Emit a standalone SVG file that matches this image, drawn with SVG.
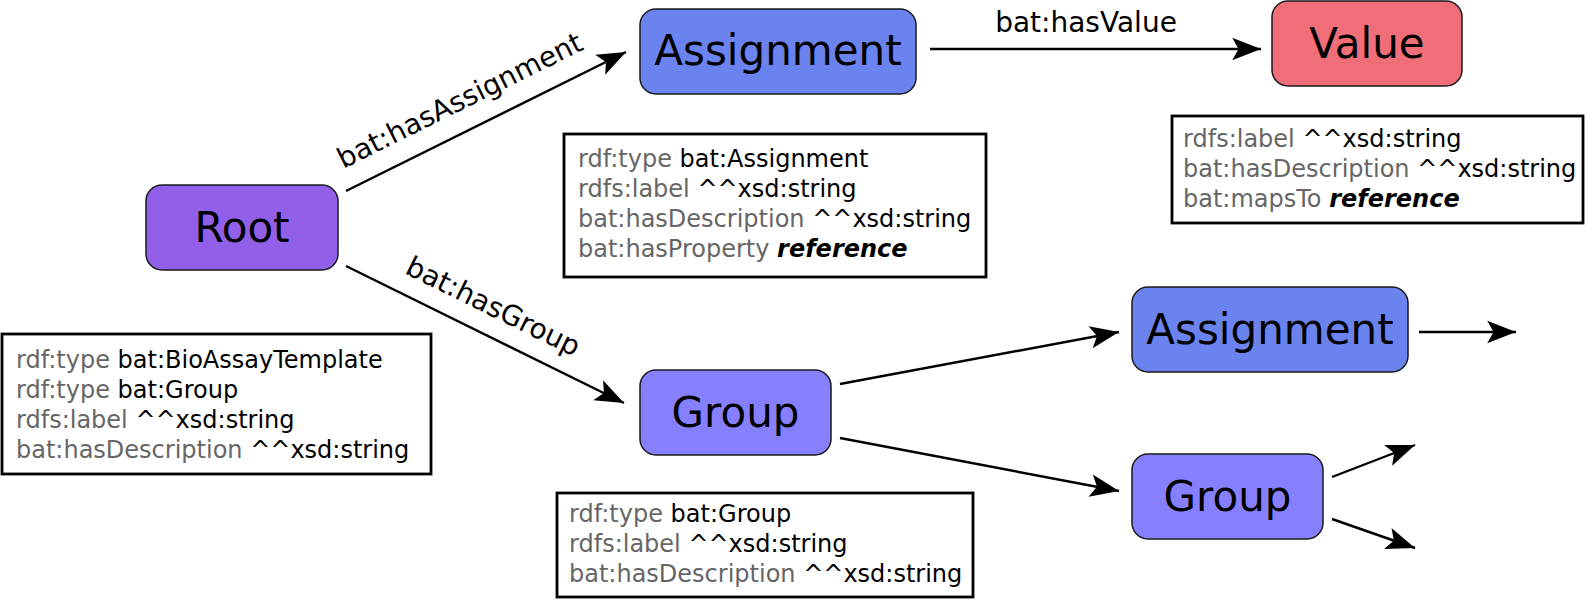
<svg xmlns="http://www.w3.org/2000/svg" width="1585" height="600" viewBox="0 0 1585 600">
<style>
.node{stroke:#1a1a1a;stroke-width:1.5}
.root{fill:#915fe8}
.asg{fill:#6a83ef}
.val{fill:#f06e77}
.grp{fill:#8780fe}
.nl{font-family:"DejaVu Sans",sans-serif;font-size:42px;fill:#000;text-anchor:middle}
.el{font-family:"DejaVu Sans",sans-serif;font-size:28px;fill:#000;text-anchor:middle}
.box{fill:#fff;stroke:#000;stroke-width:2.8}
.it{font-family:"DejaVu Sans",sans-serif;font-size:24px;fill:#000}
.p{fill:#666}
.r{font-weight:bold;font-style:italic}
.edge{stroke:#000;stroke-width:2.4;fill:none;marker-end:url(#ah)}
</style>
<defs>
<marker id="ah" markerUnits="userSpaceOnUse" markerWidth="32" markerHeight="26" viewBox="-29 -12 30 24" refX="0" refY="0" orient="auto">
<path d="M0,0 L-27,-10.5 L-21,0 L-27,10.5 Z" fill="#000"/>
</marker>
</defs>
<g id="connectors">
<line class="edge" x1="346" y1="191" x2="626" y2="52"/>
<line class="edge" x1="346" y1="266" x2="624" y2="403"/>
<line class="edge" x1="930" y1="49" x2="1261" y2="49"/>
<line class="edge" x1="840" y1="384" x2="1119" y2="332"/>
<line class="edge" x1="840" y1="438" x2="1119" y2="491"/>
<line class="edge" x1="1419" y1="332" x2="1516" y2="332"/>
<line class="edge" x1="1332" y1="477" x2="1415" y2="445"/>
<line class="edge" x1="1332" y1="519" x2="1415" y2="548"/>
<text class="el" transform="translate(464,109) rotate(-26.4)">bat:hasAssignment</text>
<text class="el" transform="translate(489,315) rotate(26.2)">bat:hasGroup</text>
<text class="el" x="1086" y="32">bat:hasValue</text>
</g>
<g id="root">
<rect class="node root" x="146" y="185" width="192" height="85" rx="16"/>
<text class="nl" x="242" y="242">Root</text>
</g>
<g id="assignment">
<rect class="node asg" x="640" y="9" width="276" height="85" rx="16"/>
<text class="nl" x="778" y="65">Assignment</text>
</g>
<g id="value">
<rect class="node val" x="1272" y="1" width="190" height="85" rx="16"/>
<text class="nl" x="1367" y="58">Value</text>
</g>
<g id="group">
<rect class="node grp" x="640" y="370" width="191" height="85" rx="16"/>
<text class="nl" x="735.5" y="427">Group</text>
</g>
<g id="assignment2">
<rect class="node asg" x="1132" y="287" width="276" height="85" rx="16"/>
<text class="nl" x="1270" y="344">Assignment</text>
</g>
<g id="group2">
<rect class="node grp" x="1132" y="454" width="191" height="85" rx="16"/>
<text class="nl" x="1227.5" y="511">Group</text>
</g>
<g id="root-info">
<rect class="box" x="2" y="334" width="429" height="140"/>
<text class="it" x="16" y="368"><tspan class="p">rdf:type</tspan> bat:BioAssayTemplate</text>
<text class="it" x="16" y="398"><tspan class="p">rdf:type</tspan> bat:Group</text>
<text class="it" x="16" y="428"><tspan class="p">rdfs:label</tspan> ^^xsd:string</text>
<text class="it" x="16" y="458"><tspan class="p">bat:hasDescription</tspan> ^^xsd:string</text>
</g>
<g id="assignment-info">
<rect class="box" x="564" y="134" width="422" height="143"/>
<text class="it" x="578" y="167"><tspan class="p">rdf:type</tspan> bat:Assignment</text>
<text class="it" x="578" y="197"><tspan class="p">rdfs:label</tspan> ^^xsd:string</text>
<text class="it" x="578" y="227"><tspan class="p">bat:hasDescription</tspan> ^^xsd:string</text>
<text class="it" x="578" y="257"><tspan class="p">bat:hasProperty</tspan> <tspan class="r">reference</tspan></text>
</g>
<g id="value-info">
<rect class="box" x="1172" y="116" width="411" height="107"/>
<text class="it" x="1183" y="147"><tspan class="p">rdfs:label</tspan> ^^xsd:string</text>
<text class="it" x="1183" y="177"><tspan class="p">bat:hasDescription</tspan> ^^xsd:string</text>
<text class="it" x="1183" y="207"><tspan class="p">bat:mapsTo</tspan> <tspan class="r">reference</tspan></text>
</g>
<g id="group-info">
<rect class="box" x="557" y="493" width="416" height="104"/>
<text class="it" x="569" y="522"><tspan class="p">rdf:type</tspan> bat:Group</text>
<text class="it" x="569" y="552"><tspan class="p">rdfs:label</tspan> ^^xsd:string</text>
<text class="it" x="569" y="582"><tspan class="p">bat:hasDescription</tspan> ^^xsd:string</text>
</g>
</svg>
